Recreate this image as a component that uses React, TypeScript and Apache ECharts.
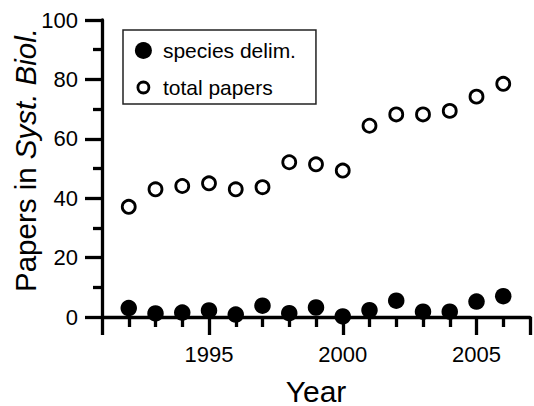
import React, { useEffect, useRef } from "react";
import * as echarts from "echarts";

const years = [1992, 1993, 1994, 1995, 1996, 1997, 1998, 1999, 2000, 2001, 2002, 2003, 2004, 2005, 2006];
const speciesDelim = [3, 1.2, 1.5, 2.2, 0.8, 3.8, 1.3, 3.2, 0.2, 2.3, 5.5, 1.8, 1.8, 5.2, 7];
const totalPapers = [37.1, 43.0, 44.1, 45.0, 43.0, 43.7, 52.1, 51.4, 49.3, 64.4, 68.2, 68.2, 69.4, 74.2, 78.5];
const majorXTicks = [1991, 1995, 2000, 2005, 2007];
const xLabels = [1995, 2000, 2005];
const minorXTicks = [1992, 1993, 1994, 1996, 1997, 1998, 1999, 2001, 2002, 2003, 2004, 2006];
const seriesNames = ["species delim.", "total papers"];

const FONT = "'Liberation Sans', Arial, Helvetica, sans-serif";
const ls = () => ({ color: "#000", width: 3.3 });
const OPEN_ICON = "path://M0,0M17,17M3,8.5A5.5,5.5,0,1,1,14,8.5A5.5,5.5,0,1,1,3,8.5Z";

export default function App() {
  const ref = useRef<HTMLDivElement>(null);
  useEffect(() => {
    if (!ref.current) return;
    const chart = echarts.init(ref.current, null, { renderer: "svg" });
    chart.setOption({
      animation: false,
      backgroundColor: "#fff",
      textStyle: { fontFamily: FONT, color: "#000" },
      grid: { left: 102, right: 4, top: 20, bottom: 89, outerBoundsMode: "none" },
      legend: {
        orient: "vertical",
        left: 123,
        top: 30,
        padding: [10, 20, 6, 10.5],
        itemWidth: 17,
        itemHeight: 17,
        itemGap: 16,
        borderColor: "#222",
        borderWidth: 1.5,
        textStyle: {
          fontSize: 21,
          fontFamily: FONT,
          color: "#000",
          lineHeight: 20,
          padding: [0, 0, 0, 6],
        },
        data: [
          { name: seriesNames[0], icon: "circle", itemStyle: { color: "#000", borderWidth: 0 } },
          {
            name: seriesNames[1],
            icon: OPEN_ICON,
            itemStyle: { color: "#fff", borderColor: "#000", borderWidth: 2.8 },
          },
        ],
      },
      xAxis: [
        {
          type: "value",
          min: 1991,
          max: 2007,
          position: "bottom",
          splitLine: { show: false },
          axisLine: { show: true, lineStyle: ls() },
          axisTick: { show: true, customValues: majorXTicks, length: 18, lineStyle: ls() },
          axisLabel: {
            customValues: xLabels,
            fontSize: 22,
            fontFamily: FONT,
            color: "#000",
            margin: 26,
            formatter: (v: number) => String(v),
          },
          name: "Year",
          nameLocation: "middle",
          nameGap: 59,
          nameTextStyle: { fontSize: 30, fontFamily: FONT, color: "#000" },
        },
        {
          type: "value",
          min: 1991,
          max: 2007,
          position: "bottom",
          splitLine: { show: false },
          axisLine: { show: false },
          axisTick: { show: true, customValues: minorXTicks, length: 10, lineStyle: ls() },
          axisLabel: { show: false },
        },
      ],
      yAxis: {
        type: "value",
        min: 0,
        max: 100,
        interval: 20,
        splitLine: { show: false },
        axisLine: { show: true, lineStyle: ls() },
        axisTick: { show: true, length: 17, lineStyle: ls() },
        minorTick: { show: true, splitNumber: 2, length: 9, lineStyle: ls() },
        axisLabel: { fontSize: 22, fontFamily: FONT, color: "#000", margin: 24 },
      },
      graphic: [
        {
          type: "text",
          x: 25,
          y: 160,
          rotation: Math.PI / 2,
          style: {
            text: "{a|Papers in }{b|Syst. Biol.}",
            align: "center",
            verticalAlign: "middle",
            rich: {
              a: { fontSize: 29.5, fontFamily: FONT, fill: "#000" },
              b: { fontSize: 29.5, fontFamily: FONT, fontStyle: "italic", fill: "#000" },
            },
          },
        },
      ],
      series: [
        {
          name: seriesNames[0],
          type: "scatter",
          symbol: "circle",
          symbolSize: 16.5,
          itemStyle: { color: "#000", opacity: 1 },
          data: years.map((y, i) => [y, speciesDelim[i]]),
          z: 5,
        },
        {
          name: seriesNames[1],
          type: "scatter",
          symbol: "circle",
          symbolSize: 13,
          itemStyle: { color: "#fff", borderColor: "#000", borderWidth: 2.8, opacity: 1 },
          data: years.map((y, i) => [y, totalPapers[i]]),
          z: 5,
        },
      ],
    });
    return () => chart.dispose();
  }, []);
  return (
    <div
      ref={ref}
      style={{ position: "absolute", left: 0, top: 0, width: 534, height: 406 }}
    />
  );
}
